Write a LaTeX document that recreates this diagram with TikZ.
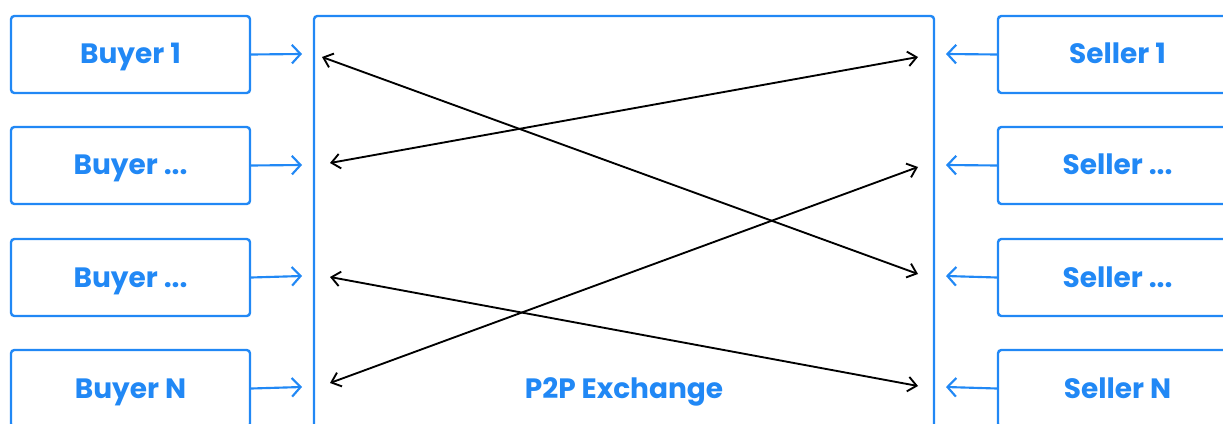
\documentclass[tikz,border=0pt]{standalone}
\usepackage{fontspec}
\setmainfont{Poppins}
\usetikzlibrary{arrows.meta}
\definecolor{pblue}{RGB}{33,136,245}
\tikzset{
  lbl/.style={text=pblue, font=\fontsize{21}{24}\selectfont\bfseries, anchor=base},
  party/.style={draw=pblue, line width=1.8pt, rounded corners=2.5pt, minimum width=179.25pt, minimum height=57.75pt, inner sep=0pt},
  feed/.style={draw=pblue, line width=1.6pt, -{Straight Barb[length=6.5pt,width=14pt,line width=1.6pt]}},
  trade/.style={draw=black, line width=1.4pt, {Straight Barb[length=6.5pt,width=11pt,line width=1.4pt]}-{Straight Barb[length=6.5pt,width=11pt,line width=1.4pt]}},
}
\begin{document}
\begin{tikzpicture}[x=0.75pt,y=-0.75pt]
\useasboundingbox (0,0) rectangle (1223,424);
\begin{scope}
\clip (0,0) rectangle (1223,424);
% buyers
\node[party] (b1) at (130.5,54.5) {};
\node[party] (b2) at (130.5,165.5) {};
\node[party] (b3) at (130.5,277.5) {};
\node[party] (b4) at (130.5,388.5) {};
\node[lbl] (tb1) at (130.5,64) {Buyer 1};
\node[lbl] (tb2) at (130.5,175) {Buyer ...};
\node[lbl] (tb3) at (130.5,287) {Buyer ...};
\node[lbl] (tb4) at (130.5,398) {Buyer N};
% sellers
\node[party] (s1) at (1117.5,54.5) {};
\node[party] (s2) at (1117.5,165.5) {};
\node[party] (s3) at (1117.5,277.5) {};
\node[party] (s4) at (1117.5,388.5) {};
\node[lbl] (ts1) at (1117.5,64) {Seller 1};
\node[lbl] (ts2) at (1117.5,175) {Seller ...};
\node[lbl] (ts3) at (1117.5,287) {Seller ...};
\node[lbl] (ts4) at (1117.5,398) {Seller N};
% exchange
\draw[draw=pblue, line width=1.8pt, rounded corners=2.5pt] (314,16) rectangle (934,440);
\node[lbl] (px) at (624,398) {P2P Exchange};
% blue feed arrows
\coordinate (bi1) at (302,54); \coordinate (bi2) at (302,165);
\coordinate (bi3) at (302,276); \coordinate (bi4) at (302,387);
\coordinate (si1) at (946,54); \coordinate (si2) at (946,165);
\coordinate (si3) at (946,276); \coordinate (si4) at (946,387);
\draw[feed] (b1.east) -- (bi1);
\draw[feed] (b2.east) -- (bi2);
\draw[feed] (b3.east) -- (bi3);
\draw[feed] (b4.east) -- (bi4);
\draw[feed] (s1.west) -- (si1);
\draw[feed] (s2.west) -- (si2);
\draw[feed] (s3.west) -- (si3);
\draw[feed] (s4.west) -- (si4);
% trades
\coordinate (l1) at (322,57); \coordinate (l2) at (330,163);
\coordinate (l3) at (330,277); \coordinate (l4) at (330,383);
\coordinate (r1) at (918,57); \coordinate (r2) at (918,167);
\coordinate (r3) at (918,274); \coordinate (r4) at (918,386);
\draw[trade] (l1) -- (r3);
\draw[trade] (l2) -- (r1);
\draw[trade] (l4) -- (r2);
\draw[trade] (l3) -- (r4);
\end{scope}
\end{tikzpicture}
\end{document}
